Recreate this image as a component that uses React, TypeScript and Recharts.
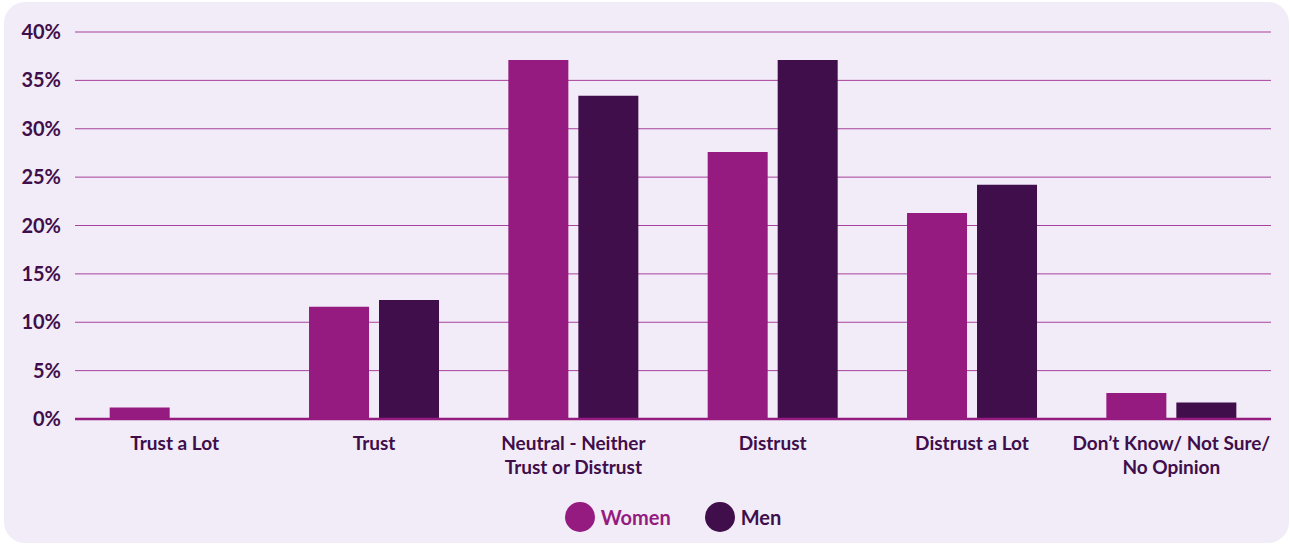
import React from 'react';
import { BarChart, Bar, XAxis, YAxis, CartesianGrid, Legend } from 'recharts';

const categories = [
  'Trust a Lot',
  'Trust',
  'Neutral - Neither\nTrust or Distrust',
  'Distrust',
  'Distrust a Lot',
  'Don\u2019t Know/ Not Sure/\nNo Opinion',
];
const women = [1.2, 11.6, 37.1, 27.6, 21.3, 2.7];
const men = [0, 12.3, 33.4, 37.1, 24.2, 1.7];
const yTicks = [0, 5, 10, 15, 20, 25, 30, 35, 40];

const data = categories.map((c, i) => ({ name: c, Women: women[i], Men: men[i] }));

const WOMEN = '#951B81';
const MEN = '#3F0E4B';
const TEXT = '#3F0E4B';
const FONT = 'Lato, "Open Sans", sans-serif';

const XTick = (props: any) => {
  const { x, y, payload } = props;
  const lines = String(payload.value).split('\n');
  return (
    <g transform={`translate(${x},${y})`}>
      {lines.map((l: string, i: number) => (
        <text key={i} x={0} y={i * 24 + 23} textAnchor="middle" fill={TEXT}
          style={{ fontFamily: FONT, fontWeight: 700, fontSize: 19 }}>
          {l}
        </text>
      ))}
    </g>
  );
};

const YTick = (props: any) => {
  const { x, y, payload } = props;
  return (
    <text x={x} y={y} dy={7} textAnchor="end" fill={TEXT}
      style={{ fontFamily: FONT, fontWeight: 700, fontSize: 20 }}>
      {payload.value}%
    </text>
  );
};

const LegendContent = () => (
  <div style={{ display: 'flex', justifyContent: 'center', alignItems: 'center', height: 30, fontFamily: FONT, fontWeight: 700, fontSize: 20 }}>
    <span style={{ display: 'inline-block', width: 30, height: 30, borderRadius: 15, background: WOMEN, marginRight: 6 }} />
    <span style={{ color: WOMEN, marginRight: 34 }}>Women</span>
    <span style={{ display: 'inline-block', width: 30, height: 30, borderRadius: 15, background: MEN, marginRight: 6 }} />
    <span style={{ color: MEN }}>Men</span>
  </div>
);

export default function App() {
  return (
    <div style={{ position: 'fixed', left: 0, top: 0, width: 1290, height: 544, background: '#ffffff', overflow: 'hidden' }}>
      <div style={{ position: 'absolute', left: 4, top: 2, width: 1285, height: 541, borderRadius: 21, background: '#F1ECF7' }} />
      <div style={{ position: 'absolute', left: 0, top: 0 }}>
        <BarChart width={1290} height={544} data={data}
          margin={{ top: 32, right: 19, left: 0, bottom: 12 }}
          barCategoryGap="17.4%" barGap={10}>
          <CartesianGrid horizontal vertical={false} stroke="#A8409C" strokeWidth={1} />
          <XAxis dataKey="name" height={83} tickLine={false} axisLine={{ stroke: WOMEN, strokeWidth: 2.5 }}
            tick={<XTick />} interval={0} />
          <YAxis width={75} domain={[0, 40]} ticks={yTicks} tickLine={false} axisLine={false}
            tick={<YTick />} tickMargin={8} />
          <Legend verticalAlign="bottom" height={30} content={<LegendContent />}
            wrapperStyle={{ left: 75, width: 1196 }} />
          <Bar dataKey="Women" fill={WOMEN} isAnimationActive={false} />
          <Bar dataKey="Men" fill={MEN} isAnimationActive={false} />
        </BarChart>
      </div>
    </div>
  );
}
